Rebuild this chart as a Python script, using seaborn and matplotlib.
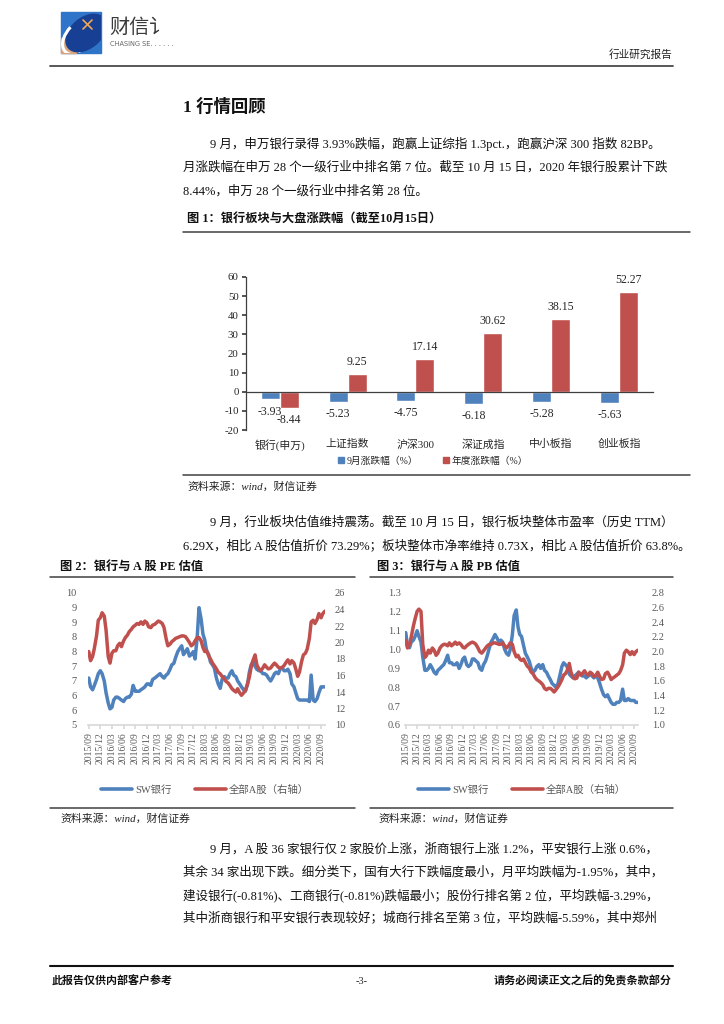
import numpy as np
import pandas as pd
import matplotlib
matplotlib.use("Agg")
import matplotlib.pyplot as plt
import matplotlib.patches as mpatches
from matplotlib.lines import Line2D
import seaborn as sns

# ================= 数据 =================
BLUE = "#4F81BD"
RED = "#C0504D"
GREY = "#595959"

BAR_CATS = ["银行(申万)", "上证指数", "沪深300", "深证成指", "中小板指", "创业板指"]
BAR_SERIES = ["9月涨跌幅（%）", "年度涨跌幅（%）"]
SEP_CHG = [-3.93, -5.23, -4.75, -6.18, -5.28, -5.63]
YTD_CHG = [-8.44, 9.25, 17.14, 30.62, 38.15, 52.27]

# 半月采样日期（2015/09 - 2020/10）
DATES = pd.date_range("2015-09-01", "2020-10-01", freq="SMS")
QTR_LABELS = ["2015/09", "2015/12", "2016/03", "2016/06", "2016/09", "2016/12",
              "2017/03", "2017/06", "2017/09", "2017/12", "2018/03", "2018/06",
              "2018/09", "2018/12", "2019/03", "2019/06", "2019/09", "2019/12",
              "2020/03", "2020/06", "2020/09"]

PE_BANK = [6.6, 6.3, 6.2, 6.35, 6.55, 6.75, 6.85, 6.75, 6.5, 6.1,
           5.75, 5.55, 5.6, 5.85, 5.95, 5.95, 5.9, 5.85, 5.8, 5.9,
           5.95, 5.95, 6.05, 6.35, 6.15, 6.15, 6.15, 6.2, 6.25, 6.3,
           6.4, 6.4, 6.35, 6.55, 6.6, 6.65, 6.7, 6.75, 6.65, 6.6,
           6.7, 6.75, 6.9, 7.05, 7.1, 7.3, 7.5, 7.6, 7.7, 7.4,
           7.5, 7.6, 7.35, 7.4, 7.5, 7.25, 8.0, 9.0, 8.6, 8.1,
           7.9, 7.55, 7.4, 7.15, 7.05, 6.95, 6.6, 6.4, 6.25, 6.55,
           6.65, 6.6, 6.6, 6.75, 6.85, 6.7, 6.65, 6.5, 6.4, 6.3,
           6.2, 6.15, 6.4, 6.8, 7.05, 7.15, 7.0, 6.9, 6.85, 6.85,
           6.75, 6.75, 6.7, 6.6, 6.5, 6.6, 6.75, 6.8, 6.75, 6.9,
           6.95, 6.85, 6.85, 6.9, 6.75, 6.4, 6.3, 6.1, 5.9, 5.85,
           5.85, 5.85, 5.85, 5.85, 5.8, 6.7, 5.85, 5.8, 5.9, 6.1,
           6.3, 6.3, 6.3]
PE_ALL = [18.9, 17.8, 18.3, 19.3, 20.8, 22.7, 23.0, 23.6, 23.2, 21.5,
          18.3, 17.5, 18.7, 19.0, 19.0, 19.6, 19.9, 19.5, 20.2, 20.6,
          20.9, 21.3, 21.6, 21.9, 22.1, 22.3, 22.2, 22.5, 22.2, 22.6,
          22.4, 21.9, 21.8, 22.1, 22.2, 22.4, 22.6, 22.5, 22.3, 21.8,
          20.5, 19.6, 19.8, 20.1, 20.3, 20.5, 20.6, 20.7, 20.8, 20.8,
          20.7, 20.4, 20.0, 19.6, 19.8, 20.2, 20.6, 20.6, 20.2, 19.4,
          18.9, 19.0, 18.4, 18.0, 17.5, 17.2, 16.8, 16.4, 16.2, 15.9,
          15.6, 15.3, 15.1, 14.8, 14.4, 14.2, 14.0, 14.4, 13.9, 13.6,
          13.9, 14.2, 15.0, 15.8, 17.0, 17.8, 18.5, 17.3, 16.8, 16.6,
          16.9, 17.3, 17.0, 16.8, 16.9, 17.2, 17.5, 17.3, 17.0, 16.9,
          17.0, 17.2, 17.6, 17.9, 17.4, 17.8, 17.5, 16.8, 15.9, 16.4,
          17.7, 18.5, 18.7, 19.2, 20.5, 22.5, 22.7, 22.3, 22.8, 23.5,
          23.0, 23.5, 23.8]
PB_BANK = [1.09, 1.02, 1.01, 1.04, 1.05, 1.07, 1.10, 1.07, 1.04, 0.96,
           0.89, 0.89, 0.90, 0.92, 0.90, 0.88, 0.87, 0.89, 0.90, 0.91,
           0.92, 0.94, 0.97, 0.93, 0.93, 0.92, 0.92, 0.93, 0.90, 0.92,
           0.95, 0.96, 0.92, 0.91, 0.92, 0.95, 0.95, 0.94, 0.93, 0.90,
           0.89, 0.92, 0.94, 0.97, 1.01, 1.04, 1.06, 1.08, 1.06, 1.04,
           1.05, 1.04, 1.00, 0.98, 0.97, 1.00, 1.08, 1.18, 1.21, 1.12,
           1.08, 1.07, 1.02, 0.98, 0.96, 0.94, 0.90, 0.88, 0.89, 0.91,
           0.92, 0.90, 0.92, 0.89, 0.88, 0.86, 0.84, 0.82, 0.81, 0.80,
           0.82, 0.86, 0.91, 0.93, 0.92, 0.91, 0.87, 0.86, 0.85, 0.86,
           0.87, 0.88, 0.87, 0.86, 0.86, 0.85, 0.86, 0.87, 0.86, 0.85,
           0.86, 0.85, 0.82, 0.79, 0.76, 0.75, 0.76, 0.74, 0.72, 0.71,
           0.71, 0.72, 0.72, 0.73, 0.79, 0.73, 0.73, 0.74, 0.73, 0.73,
           0.73, 0.72, 0.72]
PB_ALL = [2.15, 2.05, 2.10, 2.20, 2.35, 2.45, 2.55, 2.58, 2.55, 2.10,
          1.92, 1.95, 2.02, 1.98, 2.05, 2.02, 1.95, 1.98, 2.05, 2.08,
          2.10, 2.10, 2.08, 2.12, 2.08, 2.10, 2.13, 2.10, 2.12, 2.10,
          2.06, 2.05, 2.08, 2.10, 2.12, 2.13, 2.12, 2.10, 2.05, 2.00,
          1.98, 2.01, 2.05, 2.08, 2.10, 2.10, 2.12, 2.12, 2.11, 2.10,
          2.10, 2.12, 2.08, 2.05, 2.08, 2.12, 2.10, 2.00, 1.93, 1.95,
          1.90, 1.88, 1.90, 1.85, 1.80, 1.78, 1.72, 1.70, 1.65, 1.62,
          1.60, 1.58, 1.55, 1.50, 1.48, 1.50, 1.50, 1.48, 1.45, 1.48,
          1.52, 1.56, 1.62, 1.68, 1.70, 1.74, 1.84, 1.72, 1.65, 1.63,
          1.64, 1.72, 1.68, 1.70, 1.74, 1.70, 1.68, 1.72, 1.70, 1.66,
          1.68, 1.72, 1.66, 1.62, 1.63, 1.70, 1.72, 1.68, 1.62, 1.64,
          1.66, 1.68, 1.70, 1.74, 1.82, 1.98, 2.02, 2.00, 1.96, 2.00,
          1.96, 2.00, 2.02]

PE_LTICKS = [5.0, 5.5, 6.0, 6.5, 7.0, 7.5, 8.0, 8.5, 9.0, 9.5]
PE_LLABELS = ["5", "6", "6", "7", "7", "8", "8", "9", "9", "10"]
PE_RTICKS = [10, 12, 14, 16, 18, 20, 22, 24, 26]
PB_LTICKS = [0.6, 0.7, 0.8, 0.9, 1.0, 1.1, 1.2, 1.3]
PB_RTICKS = [1.0, 1.2, 1.4, 1.6, 1.8, 2.0, 2.2, 2.4, 2.6, 2.8]

PARA1 = ["9 月，申万银行录得 3.93%跌幅，跑赢上证综指 1.3pct.，跑赢沪深 300 指数 82BP。",
         "月涨跌幅在申万 28 个一级行业中排名第 7 位。截至 10 月 15 日，2020 年银行股累计下跌",
         "8.44%，申万 28 个一级行业中排名第 28 位。"]
PARA2 = ["9 月，行业板块估值维持震荡。截至 10 月 15 日，银行板块整体市盈率（历史 TTM）",
         "6.29X，相比 A 股估值折价 73.29%；板块整体市净率维持 0.73X，相比 A 股估值折价 63.8%。"]
PARA3 = ["9 月，A 股 36 家银行仅 2 家股价上涨，浙商银行上涨 1.2%，平安银行上涨 0.6%，",
         "其余 34 家出现下跌。细分类下，国有大行下跌幅度最小，月平均跌幅为-1.95%，其中，",
         "建设银行(-0.81%)、工商银行(-0.81%)跌幅最小；股份行排名第 2 位，平均跌幅-3.29%，",
         "其中浙商银行和平安银行表现较好；城商行排名至第 3 位，平均跌幅-5.59%，其中郑州"]

# ================= 样式 =================
sns.set_theme(style="white")
FONTS = ["Liberation Serif", "Noto Sans CJK SC"]
plt.rcParams["font.family"] = FONTS
plt.rcParams["axes.unicode_minus"] = False

W, H = 724, 1024
fig = plt.figure(figsize=(W / 100, H / 100), dpi=100)


def rect(x0, y0, x1, y1):
    return [x0 / W, 1 - y1 / H, (x1 - x0) / W, (y1 - y0) / H]


# 页面层（像素坐标）
page = fig.add_axes([0, 0, 1, 1])
page.set_xlim(0, W)
page.set_ylim(H, 0)
page.axis("off")

# logo
box = mpatches.Rectangle((61, 12), 40, 41, color="#2E74C9")
page.add_patch(box)
tan = mpatches.Rectangle((61, 38), 15, 15, color="#D9A47C")
page.add_patch(tan)
ell = mpatches.Ellipse((86, 33), 46, 30, angle=-40, color="#173F93")
page.add_patch(ell)
ell.set_clip_path(box)
arc = mpatches.Arc((84, 35), 50, 30, angle=-40, theta1=140, theta2=250, color="white", lw=2.2)
page.add_patch(arc)
arc.set_clip_path(box)
page.plot([83, 92], [20, 29], color="#F2A65A", lw=1.2)
page.plot([92, 83], [20, 29], color="#F2A65A", lw=1.2)
page.text(109, 27, "财信讠", fontsize=14.5, color="#3A3A3A", va="center", family=["Noto Sans CJK SC"])
page.text(110, 44, "CHASING SE. . . . . .", fontsize=4.8, color="#666666", va="center",
          family=["DejaVu Sans"])

page.text(672, 54, "行业研究报告", fontsize=7.7, ha="right", va="center", color="#222222")
page.plot([50, 673], [66, 66], color="#4A4A4A", lw=1.3)

# 正文
BODY = 9.0
page.text(183, 107, "1 行情回顾", fontsize=12.5, fontweight="bold", va="center", color="#111111")
for i, line in enumerate(PARA1):
    page.text(210 if i == 0 else 183, 144 + i * 23.5, line, fontsize=BODY, va="center", color="#111111")
page.text(187, 220, "图 1：银行板块与大盘涨跌幅（截至10月15日）", fontsize=8.8, fontweight="bold",
          va="center", color="#111111")
page.plot([183, 690], [232, 232], color="#404040", lw=1.1)
page.plot([183, 690], [475, 475], color="#404040", lw=1.1)
page.text(187, 487, "资料来源：wind，财信证券", fontsize=7.8, style="italic", va="center", color="#222222")

for i, line in enumerate(PARA2):
    page.text(210 if i == 0 else 183, 522 + i * 24, line, fontsize=BODY, va="center", color="#111111")

page.text(60, 567, "图 2：银行与 A 股 PE 估值", fontsize=8.8, fontweight="bold", va="center", color="#111111")
page.text(377, 567, "图 3：银行与 A 股 PB 估值", fontsize=8.8, fontweight="bold", va="center", color="#111111")
for x0, x1 in [(50, 355), (370, 673)]:
    page.plot([x0, x1], [577, 577], color="#404040", lw=1.1)
    page.plot([x0, x1], [808, 808], color="#404040", lw=1.1)
page.text(60, 819, "资料来源：wind，财信证券", fontsize=7.8, style="italic", va="center", color="#222222")
page.text(378, 819, "资料来源：wind，财信证券", fontsize=7.8, style="italic", va="center", color="#222222")

for i, line in enumerate(PARA3):
    page.text(210 if i == 0 else 183, 849 + i * 23, line, fontsize=BODY, va="center", color="#111111")

page.plot([50, 673], [966, 966], color="#111111", lw=1.5)
page.text(52, 981, "此报告仅供内部客户参考", fontsize=7.9, fontweight="bold", va="center", color="#111111")
page.text(362, 981, "-3-", fontsize=7.5, ha="center", va="center", color="#222222")
page.text(672, 981, "请务必阅读正文之后的免责条款部分", fontsize=8, fontweight="bold", ha="right",
          va="center", color="#111111")

# ================= 图1 柱状图 =================
axb = fig.add_axes(rect(245.7, 277, 653, 430))
df_bar = pd.DataFrame({
    "cat": BAR_CATS * 2,
    "series": [BAR_SERIES[0]] * len(BAR_CATS) + [BAR_SERIES[1]] * len(BAR_CATS),
    "val": SEP_CHG + YTD_CHG,
})
sns.barplot(data=df_bar, x="cat", y="val", hue="series", palette=[BLUE, RED], width=0.56,
            saturation=1, errorbar=None, ax=axb, legend=False)
for cont, vals in zip(axb.containers, [SEP_CHG, YTD_CHG]):
    axb.bar_label(cont, labels=[f"{v:.2f}" for v in vals], padding=4.5, fontsize=8.5, color="#262626")

axb.set_ylim(-20, 60)
axb.set_yticks(range(-20, 61, 10))
axb.set_xlim(-0.5, 5.5)
axb.set_xlabel("")
axb.set_ylabel("")
for s in ["top", "right"]:
    axb.spines[s].set_visible(False)
axb.spines["bottom"].set_position(("data", 0))
for s in ["bottom", "left"]:
    axb.spines[s].set_color("#404040")
    axb.spines[s].set_linewidth(0.9)
axb.set_xticks(range(len(BAR_CATS)))
axb.set_xticklabels(BAR_CATS)
axb.tick_params(axis="x", which="major", length=0, pad=34, labelsize=7.8, labelcolor="#262626")
axb.set_xticks(np.arange(-0.5, len(BAR_CATS), 1), minor=True)
axb.tick_params(axis="x", which="minor", length=4, direction="in", color="#404040", width=0.9)
axb.tick_params(axis="y", length=3, direction="out", labelsize=7.8, color="#404040",
                labelcolor="#262626", pad=2, left=True)
axb.patch.set_alpha(0)

bar_handles = [mpatches.Patch(color=BLUE, label=BAR_SERIES[0]),
               mpatches.Patch(color=RED, label=BAR_SERIES[1])]
fig.legend(handles=bar_handles, loc="center", bbox_to_anchor=(433 / W, 1 - 461 / H),
           bbox_transform=fig.transFigure, ncol=2, frameon=False, fontsize=7,
           handlelength=0.6, handleheight=0.6, handletextpad=0.3, columnspacing=2.5,
           labelcolor="#262626")


# ================= 图2/3 估值折线 =================
def val_chart(box_px, left_vals, right_vals, lticks, llabels, rticks, rlabels, lpad, rpad, legend_x):
    ax = fig.add_axes(rect(*box_px))
    df = pd.DataFrame({"date": DATES, "bank": left_vals, "all": right_vals})
    sns.lineplot(data=df, x="date", y="bank", ax=ax, color=BLUE, linewidth=2.5)
    ax2 = ax.twinx()
    sns.lineplot(data=df, x="date", y="all", ax=ax2, color=RED, linewidth=2.5)

    tick_dates = [pd.Timestamp(s.replace("/", "-") + "-01") for s in QTR_LABELS]
    ax.set_xlim(pd.Timestamp("2015-08-26"), pd.Timestamp("2020-10-02"))
    ax.set_xticks(tick_dates)
    ax.set_xticklabels(QTR_LABELS, rotation=90)
    ax.tick_params(axis="x", length=3, color="#D9D9D9", labelsize=7, labelcolor=GREY, pad=2, bottom=True)

    ax.set_ylim(lticks[0], lticks[-1])
    ax.set_yticks(lticks)
    ax.set_yticklabels(llabels)
    ax.tick_params(axis="y", length=0, labelsize=7.5, labelcolor=GREY, pad=lpad)
    ax2.set_ylim(rticks[0], rticks[-1])
    ax2.set_yticks(rticks)
    ax2.set_yticklabels(rlabels)
    ax2.tick_params(axis="y", length=0, labelsize=7.5, labelcolor=GREY, pad=rpad)

    for a in (ax, ax2):
        a.set_xlabel("")
        a.set_ylabel("")
        for s in ["top", "left", "right", "bottom"]:
            a.spines[s].set_visible(False)
    ax.spines["bottom"].set_visible(True)
    ax.spines["bottom"].set_color("#D9D9D9")
    ax.patch.set_alpha(0)

    handles = [Line2D([], [], color=BLUE, lw=2.6, label="SW银行"),
               Line2D([], [], color=RED, lw=2.6, label="全部A股（右轴）")]
    fig.legend(handles=handles, loc="center", bbox_to_anchor=(legend_x / W, 1 - 790 / H),
               bbox_transform=fig.transFigure, ncol=2, frameon=False, fontsize=7.5,
               handlelength=3, handletextpad=0.3, columnspacing=2.2, labelcolor=GREY)


val_chart((88, 593, 325, 725), PE_BANK, PE_ALL, PE_LTICKS, PE_LLABELS,
          PE_RTICKS, [str(v) for v in PE_RTICKS], 8, 7, 205)
val_chart((405, 593, 638, 725), PB_BANK, PB_ALL, PB_LTICKS, [f"{v:.1f}" for v in PB_LTICKS],
          PB_RTICKS, [f"{v:.1f}" for v in PB_RTICKS], 3, 10, 522)

fig.savefig("out.png", dpi=100)
